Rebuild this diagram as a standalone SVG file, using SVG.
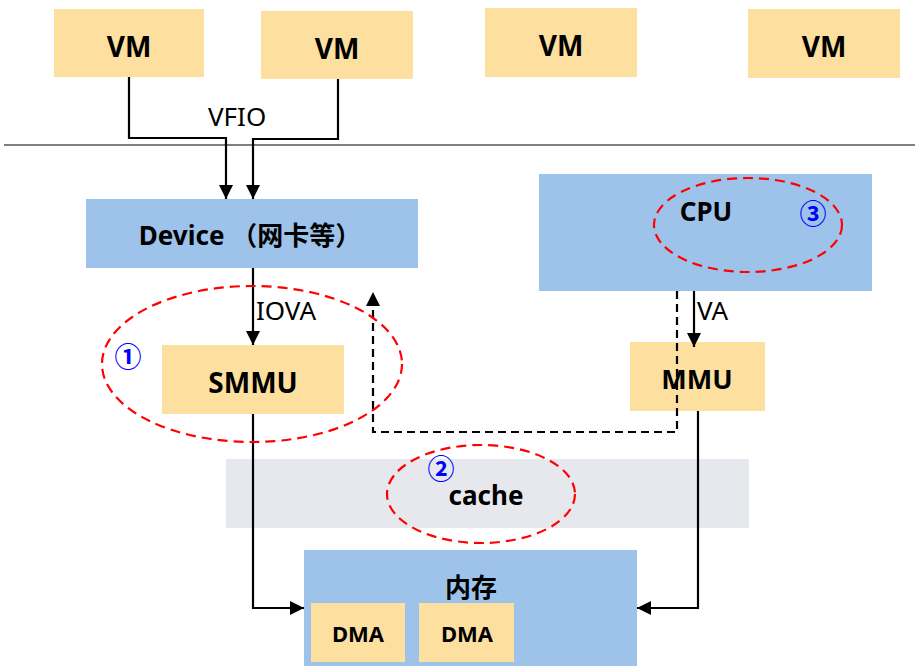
<svg xmlns="http://www.w3.org/2000/svg" width="915" height="666" viewBox="0 0 915 666">
<defs>
<marker id="ah" viewBox="0 0 14 14" refX="14" refY="7" markerWidth="14" markerHeight="14" markerUnits="userSpaceOnUse" orient="auto">
<path d="M0,0 L14,7 L0,14 Z" fill="#000"/>
</marker>
</defs>
<style>
.y{fill:#FDDF9F}
.b{fill:#9DC3EB}
.g{fill:#E7E8EE}
.t{font-family:"Noto Sans","Noto Sans CJK SC",sans-serif;font-weight:bold;fill:#000;text-anchor:middle}
.r{font-family:"Noto Sans","Noto Sans CJK SC",sans-serif;font-size:26px;fill:#000}
.n{font-family:"Noto Sans CJK SC","Noto Sans",sans-serif;font-weight:bold;font-size:27px;fill:#0000FF;text-anchor:middle}
.c{fill:none;stroke:#000;stroke-width:2.2}
.d{fill:none;stroke:#000;stroke-width:2.2;stroke-dasharray:8 5}
.e{fill:none;stroke:#FF0000;stroke-width:2.2;stroke-dasharray:10 6}
</style>
<rect width="915" height="666" fill="#fff"/>
<line x1="4" y1="145" x2="915" y2="145" stroke="#555" stroke-width="1.5"/>

<g id="vm1"><rect class="y" x="54" y="9" width="150" height="68"/><text class="t" x="129" y="57" font-size="28">VM</text></g>
<g id="vm2"><rect class="y" x="261" y="11" width="152" height="68"/><text class="t" x="337" y="59" font-size="28">VM</text></g>
<g id="vm3"><rect class="y" x="485" y="8" width="152" height="69"/><text class="t" x="561" y="56" font-size="28">VM</text></g>
<g id="vm4"><rect class="y" x="748" y="9" width="152" height="69"/><text class="t" x="824" y="57" font-size="28">VM</text></g>

<g id="device"><rect class="b" x="86" y="199" width="332" height="69"/><text class="t" x="250" y="245" font-size="26">Device （网卡等）</text></g>
<g id="smmu"><rect class="y" x="162" y="345" width="182" height="69"/><text class="t" x="253" y="393" font-size="28">SMMU</text></g>
<g id="cpu"><rect class="b" x="539" y="174" width="333" height="117"/><text class="t" x="706" y="221" font-size="26">CPU</text></g>
<g id="mmu"><rect class="y" x="630" y="342" width="135" height="69"/><text class="t" x="697" y="389" font-size="27">MMU</text></g>
<g id="cache"><rect class="g" x="226" y="459" width="523" height="69"/><text class="t" x="486" y="505" font-size="26">cache</text></g>
<g id="memory"><rect class="b" x="304" y="550" width="333" height="116"/><text class="t" x="471" y="597" font-size="26">内存</text>
<g id="dma1"><rect class="y" x="311" y="603" width="94" height="59"/><text class="t" x="358" y="642" font-size="22">DMA</text></g>
<g id="dma2"><rect class="y" x="419" y="603" width="95" height="59"/><text class="t" x="467" y="642" font-size="22">DMA</text></g>
</g>

<g id="connectors">
<path class="c" d="M129,77 V138 H226 V199" marker-end="url(#ah)"/>
<path class="c" d="M338,79 V139 H253 V199" marker-end="url(#ah)"/>
<text class="r" x="208" y="126">VFIO</text>
<path class="c" d="M253,268 V345" marker-end="url(#ah)"/>
<text class="r" x="256" y="320">IOVA</text>
<path class="c" d="M694,291 V347" marker-end="url(#ah)"/>
<text class="r" x="697" y="320">VA</text>
<path class="d" d="M677,291 V432 H373 V292" marker-end="url(#ah)"/>
<path class="c" d="M253,414 V608 H304" marker-end="url(#ah)"/>
<path class="c" d="M698,411 V608 H637" marker-end="url(#ah)"/>
</g>

<g id="highlights">
<ellipse class="e" cx="252" cy="364" rx="150" ry="78"/>
<ellipse class="e" cx="481" cy="494" rx="94" ry="49"/>
<ellipse class="e" cx="748" cy="225" rx="94" ry="47"/>
<text class="n" x="128" y="367">①</text>
<text class="n" x="441" y="479">②</text>
<text class="n" x="813" y="224">③</text>
</g>
</svg>
